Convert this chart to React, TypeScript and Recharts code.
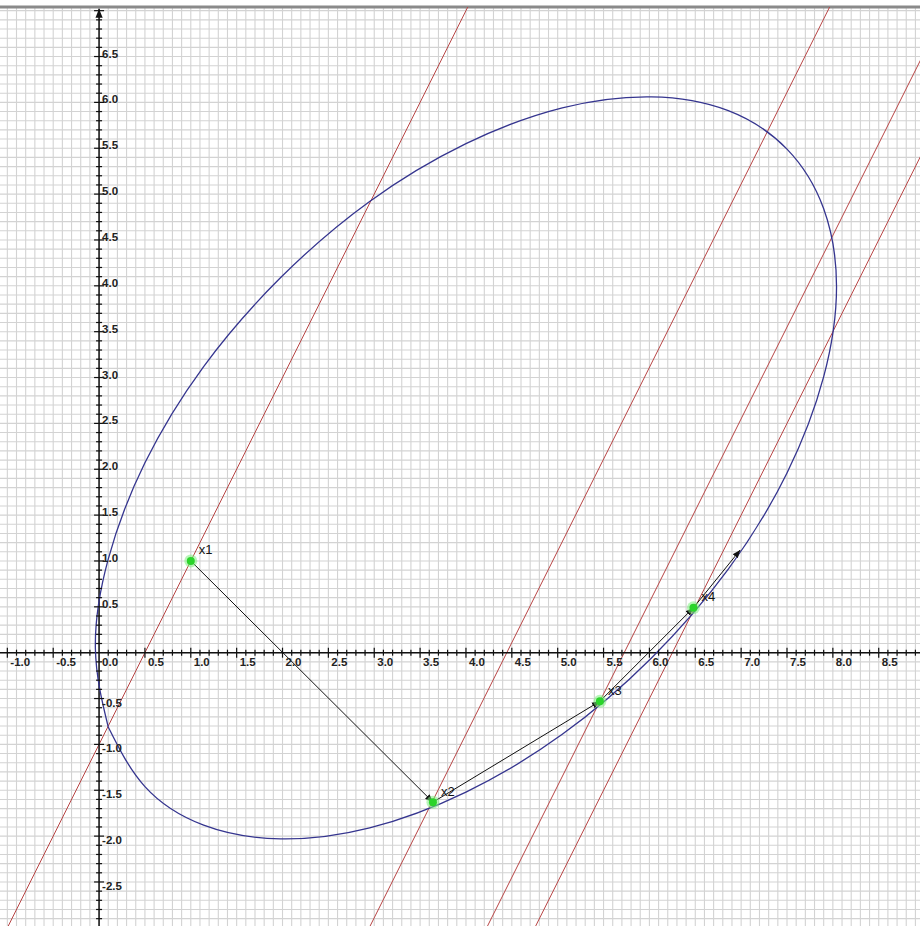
import { ComposedChart, XAxis, YAxis, Line, Scatter, ReferenceLine } from "recharts";

const X_MIN = -1.08;
const X_MAX = 8.95;
const Y_MIN = -2.98;
const Y_MAX = 7.04;

// level curve of the quadratic, traced from the break on the lower left
const LEVEL_CURVE = [
  { x: 0.1, y: -0.81 },
  { x: 0.5, y: -1.46 },
  { x: 1.14, y: -1.88 },
  { x: 1.98, y: -2.03 },
  { x: 2.95, y: -1.91 },
  { x: 4.0, y: -1.52 },
  { x: 5.05, y: -0.89 },
  { x: 6.02, y: -0.06 },
  { x: 6.86, y: 0.91 },
  { x: 7.5, y: 1.96 },
  { x: 7.9, y: 3.01 },
  { x: 8.04, y: 3.99 },
  { x: 7.9, y: 4.84 },
  { x: 7.5, y: 5.49 },
  { x: 6.86, y: 5.91 },
  { x: 6.02, y: 6.06 },
  { x: 5.05, y: 5.94 },
  { x: 4.0, y: 5.55 },
  { x: 2.95, y: 4.92 },
  { x: 1.98, y: 4.09 },
  { x: 1.14, y: 3.12 },
  { x: 0.5, y: 2.07 },
  { x: 0.1, y: 1.02 },
  { x: -0.04, y: 0.04 },
  { x: 0.1, y: -0.81 },
];

// iterates and the last step leaving x4
const ITERATES = [
  { x: 1.0, y: 1.0, name: "x1" },
  { x: 3.64, y: -1.63, name: "x2" },
  { x: 5.46, y: -0.53, name: "x3" },
  { x: 6.48, y: 0.49, name: "x4" },
];
const LAST_STEP_END = { x: 6.99, y: 1.12 };

// parallel search lines, slope 2
const SEARCH_LINES = [
  [{ x: -1.1, y: -3.2 }, { x: 4.1, y: 7.2 }],
  [{ x: 2.9, y: -3.09 }, { x: 8.05, y: 7.21 }],
  [{ x: 4.15, y: -3.15 }, { x: 9.2, y: 6.95 }],
  [{ x: 4.7, y: -3.1 }, { x: 9.3, y: 6.1 }],
];

const X_LABELS = ["-1.0", "-0.5", "0.0", "0.5", "1.0", "1.5", "2.0", "2.5", "3.0", "3.5", "4.0", "4.5", "5.0", "5.5", "6.0", "6.5", "7.0", "7.5", "8.0", "8.5"];
const Y_LABELS = ["6.5", "6.0", "5.5", "5.0", "4.5", "4.0", "3.5", "3.0", "2.5", "2.0", "1.5", "1.0", "0.5", "-0.5", "-1.0", "-1.5", "-2.0", "-2.5", "-3.0"];

const round1 = (v: number) => Math.round(v * 10) / 10;
const GRID_X = Array.from({ length: 100 }, (_, i) => round1(-1.0 + i * 0.1));
const GRID_Y = Array.from({ length: 100 }, (_, i) => round1(-2.9 + i * 0.1));
const isMajor = (v: number) => Math.abs(v * 2 - Math.round(v * 2)) < 1e-6;

const FONT = "'Liberation Sans', Arial, sans-serif";
const GRID_COLOR = "#d3d3d3";

const XTickMark = ({ cx, cy, payload }: any) => {
  const h = isMajor(payload.x) ? 5 : 3;
  return <line x1={cx} x2={cx} y1={cy - h} y2={cy + h} stroke="#111" strokeWidth={1.2} />;
};

const YTickMark = ({ cx, cy, payload }: any) => {
  const h = isMajor(payload.y) ? 5 : 3;
  return <line x1={cx - h} x2={cx + h} y1={cy} y2={cy} stroke="#111" strokeWidth={1.2} />;
};

const XLabel = ({ cx, cy, payload }: any) => (
  <text x={cx + 3} y={cy + 9} fontSize={11.5} fontFamily={FONT} fontWeight={700} fill="#222" dominantBaseline="central">
    {payload.label}
  </text>
);

const YLabel = ({ cx, cy, payload }: any) => (
  <text x={cx + 3} y={payload.y > 0 ? cy - 3 : cy + 4} fontSize={11.5} fontFamily={FONT} fontWeight={700} fill="#222" dominantBaseline="central">
    {payload.label}
  </text>
);

const IterateDot = ({ cx, cy, payload }: any) => (
  <g>
    <circle cx={cx} cy={cy} r={6.5} fill="#7fef7f" opacity={0.55} />
    <circle cx={cx} cy={cy} r={4} fill="#2bd42b" />
    <text x={cx + 8} y={cy - 11} fontSize={13} fontFamily={FONT} fill="#111" dominantBaseline="central">
      {payload.name}
    </text>
  </g>
);

export default function App() {
  const steps = ITERATES.map((p, i) => [p, ITERATES[i + 1] ?? LAST_STEP_END]);

  return (
    <div style={{ position: "absolute", left: 0, top: 0, background: "#fff" }}>
      <ComposedChart width={920} height={926} margin={{ top: 7, right: 0, bottom: 0, left: 0 }}>
        <defs>
          <marker id="stepArrow" viewBox="0 0 10 10" refX={10} refY={5} markerWidth={8} markerHeight={8} orient="auto" markerUnits="userSpaceOnUse">
            <path d="M0,1 L10,5 L0,9 Z" fill="#111" />
          </marker>
          <marker id="axisArrow" viewBox="0 0 10 10" refX={10} refY={5} markerWidth={9} markerHeight={9} orient="auto" markerUnits="userSpaceOnUse">
            <path d="M0,1 L10,5 L0,9 Z" fill="#111" />
          </marker>
        </defs>
        <XAxis
          type="number"
          dataKey="x"
          domain={[X_MIN, X_MAX]}
          allowDataOverflow
          tick={false}
          tickLine={false}
          axisLine={false}
          height={0}
        />
        <YAxis
          type="number"
          dataKey="y"
          domain={[Y_MIN, Y_MAX]}
          allowDataOverflow
          tick={false}
          tickLine={false}
          axisLine={false}
          width={0}
        />

        {/* 0.1 grid */}
        {GRID_X.map((v) => (
          <ReferenceLine key={`gx-${v}`} x={v} stroke={GRID_COLOR} strokeWidth={1.1} />
        ))}
        {GRID_Y.map((v) => (
          <ReferenceLine key={`gy-${v}`} y={v} stroke={GRID_COLOR} strokeWidth={1.1} />
        ))}
        <ReferenceLine y={Y_MAX} stroke="#8a8a8a" strokeWidth={3} />

        {SEARCH_LINES.map((seg, i) => (
          <ReferenceLine key={`search-${i}`} segment={seg} stroke="#b84545" strokeWidth={1} ifOverflow="hidden" />
        ))}

        <ReferenceLine y={0} stroke="#111" strokeWidth={1.5} />
        <Line
          data={[{ x: 0, y: Y_MIN }, { x: 0, y: Y_MAX - 0.02 }]}
          dataKey="y"
          type="linear"
          stroke="#111"
          strokeWidth={1.5}
          dot={false}
          markerEnd="url(#axisArrow)"
          isAnimationActive={false}
        />
        <Scatter data={GRID_X.filter((v) => v !== 0).map((v) => ({ x: v, y: 0 }))} shape={XTickMark} isAnimationActive={false} />
        <Scatter data={GRID_Y.filter((v) => v !== 0).map((v) => ({ x: 0, y: v }))} shape={YTickMark} isAnimationActive={false} />
        <Scatter data={X_LABELS.map((label) => ({ x: Number(label), y: 0, label }))} shape={XLabel} isAnimationActive={false} />
        <Scatter data={Y_LABELS.map((label) => ({ x: 0, y: Number(label), label }))} shape={YLabel} isAnimationActive={false} />

        <Line
          data={LEVEL_CURVE}
          dataKey="y"
          type="natural"
          stroke="#35358f"
          strokeWidth={1.3}
          dot={false}
          isAnimationActive={false}
        />

        {steps.map((seg, i) => (
          <Line
            key={`step-${i}`}
            data={seg}
            dataKey="y"
            type="linear"
            stroke="#111"
            strokeWidth={1}
            dot={false}
            markerEnd="url(#stepArrow)"
            isAnimationActive={false}
          />
        ))}

        <Scatter data={ITERATES} shape={IterateDot} isAnimationActive={false} />
      </ComposedChart>
    </div>
  );
}
